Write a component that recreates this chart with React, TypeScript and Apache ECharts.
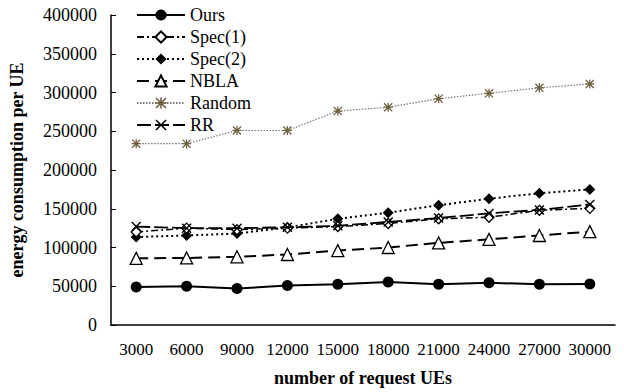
import React, { useEffect, useRef } from "react";
import * as echarts from "echarts";

const categories = ["3000", "6000", "9000", "12000", "15000", "18000", "21000", "24000", "27000", "30000"];
const oursValues = [49000, 50000, 47000, 51000, 52500, 55500, 52500, 54500, 52500, 53000];
const spec1Values = [120000, 125000, 123000, 125000, 127000, 131000, 137000, 139000, 148000, 150500];
const spec2Values = [113500, 115500, 118000, 126000, 137000, 145000, 154500, 163000, 170000, 175000];
const nblaValues = [86000, 86500, 88000, 91000, 96000, 100000, 106000, 110500, 115500, 120500];
const randomValues = [234000, 234000, 251000, 251000, 276000, 281000, 292000, 299000, 306000, 311000];
const rrValues = [127000, 125000, 125000, 126000, 128000, 133000, 138000, 144000, 148500, 155500];
const yTicks = { min: 0, max: 400000, interval: 50000 };

const FONT = "'Liberation Serif', 'Times New Roman', serif";
const crossPath = "path://M1,0L5,4L9,0L10,1L6,5L10,9L9,10L5,6L1,10L0,9L4,5L0,1Z";
const asteriskPath =
  "path://M4.3,0h1.4v10h-1.4z M0,4.3h10v1.4h-10z M1,0L10,9L9,10L0,1Z M9,0L10,1L1,10L0,9Z M3.5,3.5h3v3h-3z";

export default function App() {
  const ref = useRef<HTMLDivElement>(null);
  useEffect(() => {
    if (!ref.current) return;
    const chart = echarts.init(ref.current, null, { renderer: "svg" });
    const mk = (name: string, data: number[], extra: any) => ({
      name,
      type: "line",
      data,
      ...extra,
    });
    chart.setOption({
      animation: false,
      backgroundColor: "#fff",
      textStyle: { fontFamily: FONT, color: "#000" },
      grid: { left: 105, right: 9, top: 15, bottom: 61 },
      legend: {
        orient: "vertical",
        left: 131,
        top: 0,
        itemWidth: 48,
        itemHeight: 14,
        itemGap: 2,
        textStyle: { fontFamily: FONT, fontSize: 18, color: "#000", lineHeight: 20 },
        data: ["Ours", "Spec(1)", "Spec(2)", "NBLA", "Random", "RR"],
      },
      xAxis: {
        type: "category",
        data: categories,
        boundaryGap: true,
        axisLine: { lineStyle: { color: "#000", width: 1.5 } },
        axisTick: { inside: true, length: 5, lineStyle: { color: "#000" } },
        axisLabel: { fontFamily: FONT, fontSize: 17, color: "#000", margin: 16, interval: 0 },
        name: "number of request UEs",
        nameLocation: "middle",
        nameGap: 44,
        nameTextStyle: { fontFamily: FONT, fontSize: 18, fontWeight: "bold", color: "#000" },
      },
      yAxis: {
        type: "value",
        min: yTicks.min,
        max: yTicks.max,
        interval: yTicks.interval,
        splitLine: { show: false },
        axisLine: { show: true, lineStyle: { color: "#000", width: 1.5 } },
        axisTick: { show: true, inside: true, length: 5, lineStyle: { color: "#000" } },
        axisLabel: {
          fontFamily: FONT,
          fontSize: 18,
          color: "#000",
          margin: 14,
          formatter: (v: number) => String(v),
        },
        name: "energy consumption per UE",
        nameLocation: "middle",
        nameGap: 85,
        nameTextStyle: { fontFamily: FONT, fontSize: 18, fontWeight: "bold", color: "#000" },
      },
      series: [
        mk("Ours", oursValues, {
          symbol: "circle",
          symbolSize: 11,
          itemStyle: { color: "#000" },
          lineStyle: { color: "#000", width: 2, type: "solid" },
          z: 10,
        }),
        mk("Spec(1)", spec1Values, {
          symbol: "diamond",
          symbolSize: 10,
          itemStyle: { color: "#fff", borderColor: "#000", borderWidth: 1.3 },
          lineStyle: { color: "#000", width: 1.5, type: [7, 3, 2, 3] },
          z: 5,
        }),
        mk("Spec(2)", spec2Values, {
          symbol: "diamond",
          symbolSize: 11,
          itemStyle: { color: "#000" },
          lineStyle: { color: "#000", width: 2, type: [2, 3] },
          z: 4,
        }),
        mk("NBLA", nblaValues, {
          symbol: "triangle",
          symbolSize: 12,
          itemStyle: { color: "#fff", borderColor: "#000", borderWidth: 1.3 },
          lineStyle: { color: "#000", width: 2, type: [12, 6] },
          z: 6,
        }),
        mk("Random", randomValues, {
          symbol: asteriskPath,
          symbolSize: 9,
          itemStyle: { color: "#6e6040" },
          lineStyle: { color: "#777", width: 1.2, type: [1.5, 1.5] },
          z: 3,
        }),
        mk("RR", rrValues, {
          symbol: crossPath,
          symbolSize: 10,
          itemStyle: { color: "#000" },
          lineStyle: { color: "#000", width: 1.8, type: [14, 4] },
          z: 7,
        }),
      ],
    });
    return () => chart.dispose();
  }, []);
  return <div ref={ref} style={{ width: 624, height: 392, position: "absolute", left: 0, top: 0 }} />;
}
